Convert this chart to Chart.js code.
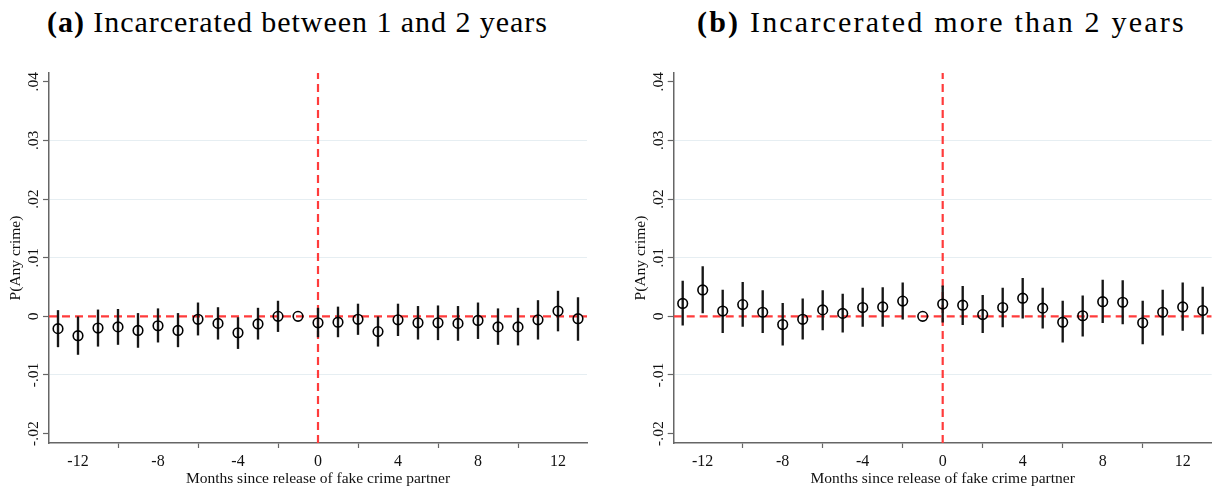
<!DOCTYPE html>
<html>
<head>
<meta charset="utf-8">
<script src="https://cdn.jsdelivr.net/npm/chart.js@4/dist/chart.umd.min.js"></script>
<style>
  html, body { margin:0; padding:0; background:#fff; overflow:hidden; }
  #wrap { position:relative; width:1221px; height:488px; }
  canvas { position:absolute; top:0; }
  .ttl { position:absolute; top:7px; font-family:"Liberation Serif", serif; font-size:30px; line-height:30px; letter-spacing:0.95px; color:#000; white-space:nowrap; }
  .ttl b { font-weight:bold; }
</style>
</head>
<body>
<div id="wrap">
  <div class="ttl" id="ta" style="left:47px"><b>(a)</b> Incarcerated between 1 and 2 years</div>
  <div class="ttl" id="tb" style="left:697px;letter-spacing:2.2px"><b>(b)</b> Incarcerated more than 2 years</div>
  <canvas id="ca" width="610" height="488" style="left:0px;width:610px;height:488px"></canvas>
  <canvas id="cb" width="611" height="488" style="left:610px;width:611px;height:488px"></canvas>
</div>
<script>
// ---- data ----
const months = [-13,-12,-11,-10,-9,-8,-7,-6,-5,-4,-3,-2,-1,0,1,2,3,4,5,6,7,8,9,10,11,12,13];

const aCoef = [-0.0021,-0.0033,-0.0020,-0.0018,-0.0024,-0.0016,-0.0024,-0.0005,-0.0012,-0.0028,-0.0013,0.0000,0,
               -0.0011,-0.0010,-0.0005,-0.0026,-0.0006,-0.0011,-0.0011,-0.0012,-0.0007,-0.0018,-0.0018,-0.0006,0.0009,-0.0004];
const aLo   = [-0.0052,-0.0065,-0.0051,-0.0048,-0.0053,-0.0044,-0.0052,-0.0032,-0.0039,-0.0055,-0.0039,-0.0026,null,
               -0.0035,-0.0035,-0.0031,-0.0051,-0.0033,-0.0039,-0.0040,-0.0041,-0.0038,-0.0048,-0.0049,-0.0039,-0.0025,-0.0041];
const aHi   = [0.0010,0.0000,0.0011,0.0012,0.0005,0.0013,0.0005,0.0023,0.0015,-0.0002,0.0014,0.0026,null,
               0.0014,0.0016,0.0021,0.0000,0.0021,0.0017,0.0018,0.0017,0.0023,0.0013,0.0014,0.0027,0.0043,0.0032];

const bCoef = [0.0022,0.0045,0.0009,0.0020,0.0007,-0.0014,-0.0005,0.0011,0.0005,0.0015,0.0016,0.0026,0,
               0.0021,0.0019,0.0003,0.0015,0.0031,0.0014,-0.0010,0.0001,0.0025,0.0024,-0.0011,0.0007,0.0016,0.0010];
const bLo   = [-0.0015,0.0006,-0.0028,-0.0017,-0.0028,-0.0049,-0.0039,-0.0023,-0.0027,-0.0017,-0.0017,-0.0005,null,
               -0.0010,-0.0014,-0.0028,-0.0018,-0.0003,-0.0020,-0.0044,-0.0034,-0.0011,-0.0013,-0.0047,-0.0032,-0.0024,-0.0030];
const bHi   = [0.0060,0.0085,0.0045,0.0058,0.0044,0.0022,0.0030,0.0044,0.0038,0.0048,0.0049,0.0057,null,
               0.0052,0.0051,0.0036,0.0048,0.0065,0.0048,0.0026,0.0035,0.0062,0.0061,0.0026,0.0045,0.0057,0.0050];

const xTicks = [-12,-8,-4,0,4,8,12];
const yTicks = [-0.02,-0.01,0,0.01,0.02,0.03,0.04];
const yGridVals = [-0.01,0.01,0.02,0.03];
const xMin = -13.45, xMax = 13.45;
const yMin = -0.0216, yMax = 0.0415;
const xTitle = 'Months since release of fake crime partner';
const yTitle = 'P(Any crime)';

// ---- styling ----
const SERIF = '"Liberation Serif", "Times New Roman", serif';
const AXIS = '#666';
const RED = '#ff3b3b';

function fmtY(v) {
  if (Math.abs(v) < 1e-9) return '0';
  return (v < 0 ? '-' : '') + Math.abs(v).toFixed(2).replace(/^0/, '');
}

const yLabelPlugin = {
  id: 'yLabels',
  afterDraw(chart) {
    const s = chart.scales.y, ctx = chart.ctx;
    ctx.save();
    ctx.font = '15.5px ' + SERIF;
    ctx.fillStyle = '#111';
    ctx.textAlign = 'center';
    ctx.textBaseline = 'alphabetic';
    s.ticks.forEach(t => {
      const y = s.getPixelForValue(t.value);
      ctx.save();
      ctx.translate(chart.chartArea.left - 11, y);
      ctx.rotate(-Math.PI / 2);
      ctx.fillText(fmtY(t.value), 0, 0);
      ctx.restore();
    });
    ctx.restore();
  }
};

function makeChart(id, coef, lo, hi, padLeft, padRight) {
  const bars = [];
  months.forEach((m, i) => { if (lo[i] !== null) bars.push({x: m, y: [lo[i], hi[i]]}); });
  const pts = months.map((m, i) => ({x: m, y: coef[i]}));
  return new Chart(document.getElementById(id), {
    type: 'scatter',
    data: {
      datasets: [
        { type: 'scatter', data: pts, order: 1,
          pointStyle: 'circle', pointRadius: 4.8, pointHoverRadius: 4.8,
          pointBorderWidth: 1.6, borderColor: '#000', pointBorderColor: '#000',
          backgroundColor: 'rgba(0,0,0,0)', pointBackgroundColor: 'rgba(0,0,0,0)' },
        { type: 'bar', data: bars, order: 2, barThickness: 1.7,
          backgroundColor: '#161616', borderWidth: 0 },
        { type: 'line', data: [{x: xMin, y: 0}, {x: xMax, y: 0}], order: 3,
          borderColor: RED, borderWidth: 2.2, borderDash: [8, 5], pointRadius: 0, fill: false },
        { type: 'line', data: [{x: 0, y: yMin}, {x: 0, y: yMax}], order: 3,
          borderColor: RED, borderWidth: 2.2, borderDash: [8, 5], pointRadius: 0, fill: false }
      ]
    },
    options: {
      responsive: false,
      animation: false,
      devicePixelRatio: 1,
      layout: { padding: { left: padLeft, right: padRight, top: 73, bottom: 0 } },
      plugins: { legend: { display: false }, tooltip: { enabled: false }, title: { display: false } },
      scales: {
        x: {
          type: 'linear', min: xMin, max: xMax, offset: false,
          afterBuildTicks: s => { s.ticks = xTicks.map(v => ({value: v})); },
          afterFit: s => { s.height = 45; },
          border: { display: true, color: AXIS, width: 1.5 },
          grid: { drawOnChartArea: false, drawTicks: true, tickLength: 5, tickColor: AXIS, tickWidth: 1.2 },
          ticks: { font: { family: SERIF, size: 16 }, color: '#111', padding: 4, maxRotation: 0,
                   callback: v => String(v) },
          title: { display: true, text: xTitle, font: { family: SERIF, size: 15.5 }, color: '#111',
                   padding: { top: 0, bottom: 0 } }
        },
        y: {
          type: 'linear', min: yMin, max: yMax,
          afterBuildTicks: s => { s.ticks = yTicks.map(v => ({value: v})); },
          afterFit: s => { s.width = 49; },
          border: { display: true, color: AXIS, width: 1.5 },
          grid: {
            drawTicks: true, tickLength: 6, tickColor: AXIS, tickWidth: 1.2, lineWidth: 1,
            color: c => (c.tick && yGridVals.some(g => Math.abs(g - c.tick.value) < 1e-9)) ? '#e6eef2' : 'rgba(0,0,0,0)'
          },
          ticks: { display: false },
          title: { display: true, text: yTitle, font: { family: SERIF, size: 15.5 }, color: '#111',
                   padding: { top: 7, bottom: 0 } }
        }
      }
    },
    plugins: [yLabelPlugin]
  });
}

makeChart('ca', aCoef, aLo, aHi, 0, 23);
makeChart('cb', bCoef, bLo, bHi, 14.7, 9.3);
</script>
</body>
</html>
